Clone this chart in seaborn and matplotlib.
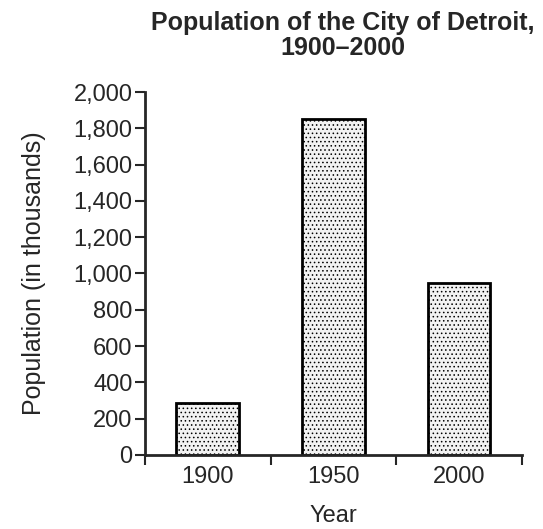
import numpy as np
import pandas as pd
import matplotlib
matplotlib.use("Agg")
import matplotlib.pyplot as plt
import seaborn as sns

years = ["1900", "1950", "2000"]
population = [285, 1850, 950]  # thousands
yticks = list(range(0, 2001, 200))

sns.set_style("ticks")
plt.rcParams['font.family'] = ['Liberation Sans', 'DejaVu Sans']
plt.rcParams['hatch.color'] = '#555555'
plt.rcParams['hatch.linewidth'] = 0.6

df = pd.DataFrame({"Year": years, "Population": population})

fig = plt.figure(figsize=(5.43, 5.29), dpi=100)
ax = fig.add_axes([0.267, 0.140, 0.694, 0.686])

sns.barplot(data=df, x="Year", y="Population", color="#f2f2f2",
            edgecolor="black", linewidth=2, width=0.5, saturation=1, ax=ax)
for p in ax.patches:
    p.set_hatch("....")

ax.set_xlim(-0.5, 2.5)
ax.set_ylim(0, 2000)
ax.set_yticks(yticks)
ax.set_yticklabels([f"{v:,}" for v in yticks], fontsize=17)
ax.set_xticks(range(len(years)))
ax.set_xticklabels(years, fontsize=17)
ax.set_xticks(np.arange(-0.5, 2.6, 1), minor=True)
ax.tick_params(axis='x', which='major', length=0, pad=8)
ax.tick_params(axis='x', which='minor', length=7, width=1.5, direction='out')
ax.tick_params(axis='y', length=7, width=1.5, direction='out', pad=2)

for s in ["top", "right"]:
    ax.spines[s].set_visible(False)
ax.spines["left"].set_linewidth(2)
ax.spines["bottom"].set_linewidth(2)

ax.set_xlabel("Year", fontsize=17, labelpad=12)
ax.set_ylabel("Population (in thousands)", fontsize=18, labelpad=20)
fig.suptitle("Population of the City of Detroit,\n1900\u20132000",
             x=0.632, y=0.98, fontsize=18, fontweight="bold", linespacing=1.1)

fig.savefig("out.png", dpi=100)
